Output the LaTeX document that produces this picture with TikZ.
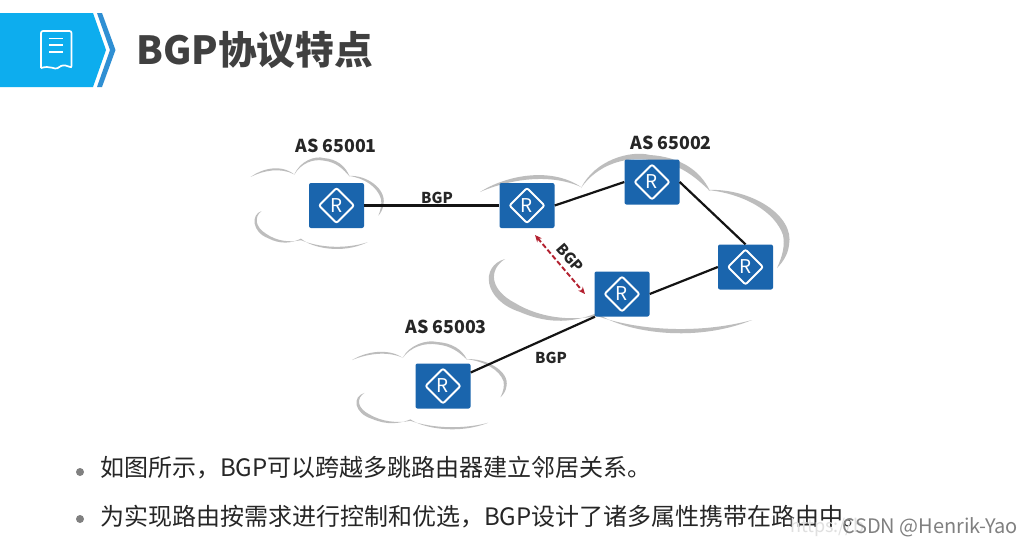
\documentclass[tikz,border=0pt]{standalone}
\usepackage{fontspec}
\setmainfont{Noto Sans CJK SC}
\usetikzlibrary{arrows.meta}
\definecolor{hdrblue}{HTML}{0DADEE}
\definecolor{chevblue}{HTML}{2F8FD3}
\definecolor{rtblue}{HTML}{1A65AD}
\definecolor{cloudgray}{HTML}{BDBDBD}
\definecolor{linkred}{HTML}{B3202F}
\newcommand{\fsz}[1]{\fontsize{#1}{#1}\selectfont}
\newcommand{\cloudshape}[1]{%
  \fill[cloudgray] (480,192) .. controls (505,176) and (550,166) .. (581,187)
     .. controls (550,173) and (510,179) .. cycle;
  \fill[cloudgray] (581,188) .. controls (595,160) and (630,150) .. (650,155)
     .. controls (680,157) and (700,170) .. (710,191)
     .. controls (695,177) and (680,163) .. (650,160)
     .. controls (625,156) and (597,165) .. cycle;
  \fill[cloudgray] (708,190) .. controls (750,188) and (795,215) .. (789,245)
     .. controls (788,255) and (782,263) .. (777,268)
     .. controls (783,255) and (785,245) .. (783,235)
     .. controls (775,212) and (745,194) .. cycle;
  \fill[cloudgray] (505,259) .. controls (480,266) and (483,300) .. (520,312)
     .. controls (550,325) and (575,322) .. (597,313)
     .. controls (620,330) and (690,345) .. (752,320)
     .. controls (700,334) and (640,331) .. (597,316)
     .. controls (570,321) and (540,318) .. (515,303)
     .. controls (490,290) and (488,270) .. cycle;
}
\tikzset{
  router/.style={rectangle,rounded corners=2pt,fill=rtblue,minimum width=55pt,minimum height=45pt,
    inner sep=0pt,text=white,font=\fsz{19},
    path picture={\draw[white,line width=1.9pt] (path picture bounding box.center)
      +(0,17.5) -- +(17.5,0) -- +(0,-17.5) -- +(-17.5,0) -- cycle;}},
  link/.style={black!92,line width=2.2pt},
  bgplink/.style={linkred,line width=1.9pt,dash pattern=on 5pt off 2.5pt,{Stealth[length=7pt,width=6pt]}-{Stealth[length=7pt,width=6pt]}},
  aslabel/.style={font=\fsz{17.8}\bfseries,text=black!85,inner sep=0pt},
  bgplabel/.style={font=\fsz{15}\bfseries,text=black!85,inner sep=0pt},
  bodytext/.style={font=\fsz{24},text=black!85,inner sep=0pt,anchor=west},
  dotmark/.style={circle,fill=black!50,minimum size=8pt,inner sep=0pt},
}
\begin{document}
\begin{tikzpicture}[x=1pt,y=-1pt]
\useasboundingbox (0,0) rectangle (1033,547);
\fill[white] (0,0) rectangle (1033,547);
% header
\fill[hdrblue] (0,13) -- (93,13) -- (106,50) -- (93,87) -- (0,87) -- cycle;
\fill[chevblue] (97,13) -- (102,13) -- (115.5,50) -- (102,87) -- (97,87) -- (110,50) -- cycle;
\draw[white,line width=1.7pt,rounded corners=2pt] (41,68) -- (41,31) -- (71.5,31) -- (71.5,68)
   .. controls (67,65) and (63,65) .. (59,67) .. controls (55,70) and (50,65) .. (41,68);
\draw[white,line width=1.7pt] (49,38.5) -- (63,38.5) (49,45) -- (63,45) (49,52) -- (63,52);
\node[font=\fsz{38.7}\bfseries,text=black!75,anchor=west,inner sep=0pt] (title) at (136,50) {BGP协议特点};
% clouds
\begin{scope}[shift={(44.3,79)},xscale=.43,yscale=.51]\cloudshape{}\end{scope}
\cloudshape{}
\begin{scope}[shift={(112,266)},xscale=.5,yscale=.49]\cloudshape{}\end{scope}
% routers
\node[router] (r1) at (336.5,205.5) {R};
\node[router] (r2) at (527,205.5) {R};
\node[router] (r3) at (652,182) {R};
\node[router] (r4) at (745.5,267) {R};
\node[router] (r5) at (622,294) {R};
\node[router] (r6) at (443,386) {R};
% links
\draw[link] (r1) -- (r2);
\draw[link] (r2.east) -- (r3.west);
\draw[link] (r3.east) -- (r4.north);
\draw[link] (r5.east) -- (r4.west);
\draw[link] (r6.26) -- (r5.220);
\coordinate (bgpa) at (535,235);
\coordinate (bgpb) at (585,294);
\draw[bgplink] (bgpa) -- (bgpb);
% labels
\node[aslabel] (as1) at (336,146) {AS 65001};
\node[aslabel] (as2) at (671,143) {AS 65002};
\node[aslabel] (as3) at (446,327) {AS 65003};
\node[bgplabel] (l1) at (437,198) {BGP};
\node[bgplabel,rotate=-49] (l2) at (570,258) {BGP};
\node[bgplabel] (l3) at (551,358) {BGP};
% bullets
\node[dotmark] (d1) at (80,472) {};
\node[dotmark] (d2) at (80,519) {};
\node[bodytext] (t1) at (100,468) {如图所示，BGP可以跨越多跳路由器建立邻居关系。};
\node[bodytext] (t2) at (100,517) {为实现路由按需求进行控制和优选，BGP设计了诸多属性携带在路由中。};
% watermark
\node[font=\fsz{18},text=black!12,anchor=west,inner sep=0pt] (w0) at (790,527) {https://b};
\node[font=\fsz{20},text=black!50,anchor=east,inner sep=0pt] (w1) at (1018,527) {CSDN @Henrik-Yao};
\end{tikzpicture}
\end{document}
